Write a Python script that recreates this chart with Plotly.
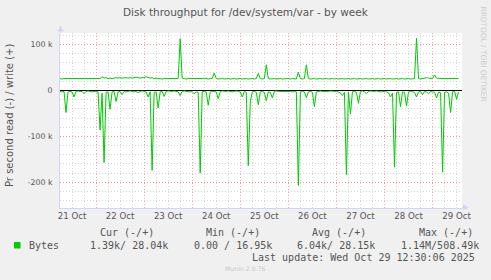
import plotly.graph_objects as go
import pandas as pd

# ---- data (hourly, thousands of bytes/s), starting 2025-10-21 06:00 ----
start_time = "2025-10-21 06:00"

write_k = [
    # 21 Oct 06-23
    26, 25, 26, 26, 25, 26, 25, 26, 26, 25, 26, 26, 25, 26, 26, 25, 26, 26,
    # 22 Oct
    26, 25, 26, 30, 27, 28, 26, 27, 26, 27, 28, 27, 28, 27, 28, 28, 27, 28, 27, 28, 29, 28, 27, 28,
    # 23 Oct
    28, 30, 28, 27, 28, 26, 27, 26, 26, 25, 26, 26, 25, 26, 26, 25, 26, 26, 113, 27, 26, 25, 26, 26,
    # 24 Oct
    25, 26, 26, 25, 26, 26, 27, 26, 25, 26, 26, 38, 26, 25, 26, 26, 25, 26, 26, 25, 26, 26, 25, 26,
    # 25 Oct
    26, 25, 26, 26, 25, 26, 26, 25, 26, 37, 26, 25, 26, 56, 26, 25, 26, 26, 25, 26, 26, 25, 26, 26,
    # 26 Oct
    26, 25, 26, 26, 25, 40, 26, 25, 26, 56, 26, 25, 26, 26, 25, 26, 26, 25, 26, 26, 25, 26, 26, 25,
    # 27 Oct
    26, 25, 26, 26, 25, 26, 26, 25, 26, 26, 25, 26, 26, 25, 26, 26, 25, 26, 26, 25, 26, 26, 25, 26,
    # 28 Oct
    26, 25, 26, 26, 25, 26, 26, 25, 26, 26, 25, 26, 26, 25, 26, 26, 114, 26, 25, 26, 27, 28, 27, 26,
    # 29 Oct 00-13
    26, 34, 27, 26, 26, 25, 26, 26, 25, 26, 26, 25, 26, 26,
]

read_k = [
    # 21 Oct 06-23
    -2, -3, -2, -48, -3, -2, -3, -14, -2, -1, -2, -2, -7, -2, -1, -2, -3, -2,
    # 22 Oct
    -2, -3, -86, -6, -157, -4, -3, -41, -3, -2, -24, -3, -2, -9, -2, -3, -2, -1, -2, -3, -2, -5, -2, -1,
    # 23 Oct
    -2, -3, -14, -3, -174, -4, -3, -38, -3, -2, -13, -2, -1, -2, -2, -1, -2, -3, -11, -2, -1, -2, -2, -3,
    # 24 Oct
    -2, -7, -3, -4, -180, -3, -2, -3, -32, -3, -2, -2, -3, -18, -2, -1, -2, -2, -1, -2, -3, -2, -1, -2,
    # 25 Oct
    -3, -14, -2, -4, -164, -25, -3, -2, -4, -31, -3, -2, -4, -22, -3, -4, -16, -2, -1, -2, -2, -1, -2, -2,
    # 26 Oct
    -1, -2, -3, -2, -3, -207, -3, -2, -3, -16, -3, -2, -4, -35, -3, -2, -1, -2, -2, -3, -2, -1, -2, -2,
    # 27 Oct
    -2, -3, -5, -11, -4, -183, -3, -51, -3, -2, -4, -28, -2, -1, -3, -7, -2, -1, -2, -2, -1, -2, -3, -2,
    # 28 Oct
    -2, -3, -5, -14, -6, -167, -4, -3, -35, -3, -4, -34, -3, -2, -3, -4, -14, -3, -2, -9, -2, -3, -7, -2,
    # 29 Oct 00-13
    -3, -4, -16, -3, -5, -178, -4, -3, -6, -48, -3, -2, -19, -3,
]

y_tick_vals = [-200, -100, 0, 100]
y_tick_text = ["-200 k", "-100 k", "0", "100 k"]

legend_headers = ["Cur (-/+)", "Min (-/+)", "Avg (-/+)", "Max (-/+)"]
legend_values = ["1.39k/ 28.04k", "0.00 / 16.95k", "6.04k/ 28.15k", "1.14M/508.49k"]
series_name = "Bytes"
title_text = "Disk throughput for /dev/system/var - by week"
y_title = "Pr second read (-) / write (+)"
last_update = "Last update: Wed Oct 29 12:30:06 2025"
munin_text = "Munin 2.0.76"
rrd_text = "RRDTOOL / TOBI OETIKER"

times = pd.date_range(start_time, periods=len(write_k), freq="h")

# ---- geometry helpers (pixel -> paper) ----
W, H = 491, 280
ML, MR, MT, MB = 60, 29, 33, 72
PW, PH = W - ML - MR, H - MT - MB


def px(x):
    return (x - ML) / PW


def py(y):
    return (H - MB - y) / PH


GREEN = "#00CC00"
FONT_C = "#555555"
AXIS_C = "#CFD6F8"
MGRID = "rgba(255,120,120,0.7)"
GRID = "rgba(185,185,185,0.6)"

fig = go.Figure()
fig.add_trace(go.Scatter(x=times, y=read_k, mode="lines",
                         line=dict(color=GREEN, width=1), hoverinfo="skip"))
fig.add_trace(go.Scatter(x=times, y=write_k, mode="lines",
                         line=dict(color=GREEN, width=1), hoverinfo="skip"))

fig.update_layout(
    width=W, height=H,
    margin=dict(l=ML, r=MR, t=MT, b=MB, pad=0),
    paper_bgcolor="#F0F0F0",
    plot_bgcolor="#FFFFFF",
    showlegend=False,
    hovermode=False,
    font=dict(family="DejaVu Sans", color=FONT_C),
)

fig.update_xaxes(
    type="date",
    range=["2025-10-21 06:00", "2025-10-29 14:42"],
    tick0="2025-10-21 00:00",
    dtick=86400000,
    ticklabelmode="period",
    tickformat="%d %b",
    ticks="",
    tickfont=dict(family="DejaVu Sans", size=8.6, color=FONT_C),
    showgrid=True, gridcolor=MGRID, griddash="1px,2px", gridwidth=1,
    minor=dict(dtick=6 * 3600000, tick0="2025-10-21 00:00", showgrid=True,
               gridcolor=GRID, griddash="1px,2px", gridwidth=1),
    showline=True, linecolor=AXIS_C, linewidth=1,
    zeroline=False,
    fixedrange=True,
)

fig.update_yaxes(
    range=[-256, 125.3],
    tickmode="array", tickvals=y_tick_vals, ticktext=y_tick_text,
    ticks="",
    ticklabelstandoff=5,
    tickfont=dict(family="DejaVu Sans", size=7.8, color=FONT_C),
    showgrid=True, gridcolor=MGRID, griddash="1px,2px", gridwidth=1,
    minor=dict(tickmode="linear", tick0=0, dtick=20, showgrid=True,
               gridcolor=GRID, griddash="1px,2px", gridwidth=1),
    zeroline=True, zerolinecolor="#000000", zerolinewidth=1,
    showline=True, linecolor=AXIS_C, linewidth=1,
    fixedrange=True,
)

shapes = [
    # y axis extension + arrow
    dict(type="line", xref="paper", yref="paper", x0=px(60.5), x1=px(60.5),
         y0=py(33), y1=py(30), line=dict(color=AXIS_C, width=1)),
    dict(type="path", xref="paper", yref="paper",
         path=f"M {px(57.5)} {py(31.5)} L {px(63.5)} {py(31.5)} L {px(60.5)} {py(25.5)} Z",
         fillcolor=AXIS_C, line=dict(width=0)),
    # x axis extension + arrow
    dict(type="line", xref="paper", yref="paper", x0=px(462), x1=px(464),
         y0=py(207.5), y1=py(207.5), line=dict(color=AXIS_C, width=1)),
    dict(type="path", xref="paper", yref="paper",
         path=f"M {px(463)} {py(204.5)} L {px(463)} {py(210.5)} L {px(469)} {py(207.5)} Z",
         fillcolor=AXIS_C, line=dict(width=0)),
    # legend swatch
    dict(type="rect", xref="paper", yref="paper", x0=px(14), x1=px(20.5),
         y0=py(248.5), y1=py(242), fillcolor=GREEN, line=dict(width=0)),
]
fig.update_layout(shapes=shapes)

ann = []


def add_text(text, x, y, size, family="DejaVu Sans", color=FONT_C, xanchor="center",
             angle=0):
    ann.append(dict(text=text, x=px(x), y=py(y), xref="paper", yref="paper",
                    showarrow=False, xanchor=xanchor, yanchor="middle",
                    textangle=angle, font=dict(family=family, size=size, color=color)))


add_text(title_text, 245.5, 12, 10.5)
add_text(y_title, 9.5, 115.5, 10, angle=-90)
add_text(rrd_text, 483.5, 54, 7.4, color="#CCCCCC", angle=90)

header_left = [97.7, 204, 310, 416.7]
value_left = [88, 192, 295, 399]
for h, xl in zip(legend_headers, header_left):
    add_text(h, xl, 232.3, 10, family="DejaVu Sans Mono", xanchor="left")
add_text(series_name, 26.7, 245, 10, family="DejaVu Sans Mono", xanchor="left")
for v, xl in zip(legend_values, value_left):
    add_text(v, xl, 245, 10, family="DejaVu Sans Mono", xanchor="left")
add_text(last_update, 476.7, 257, 10, family="DejaVu Sans Mono", xanchor="right")
add_text(munin_text, 245, 268.3, 6.2, color="#C8C8C8")

fig.update_layout(annotations=ann)

fig.write_html("out.html", config={"displayModeBar": False})
